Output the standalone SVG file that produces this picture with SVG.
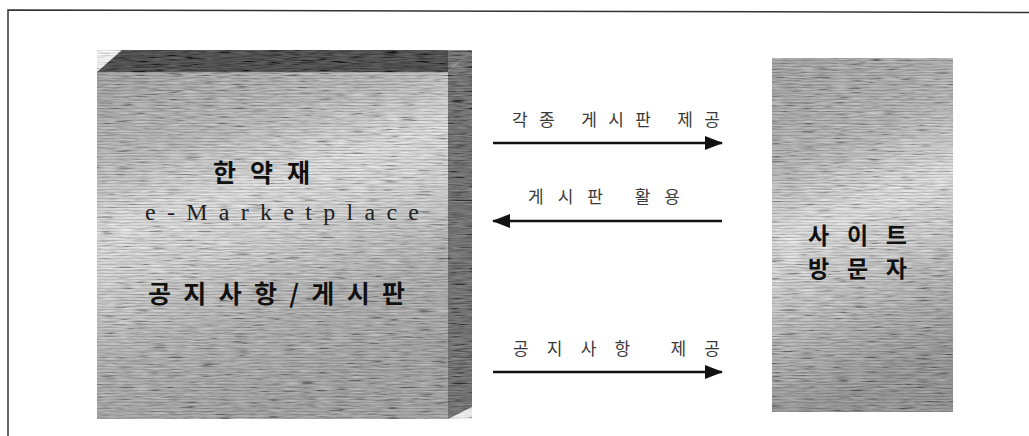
<svg xmlns="http://www.w3.org/2000/svg" width="1029" height="436" viewBox="0 0 1029 436">
  <style>
    .lbl { font-family: "Noto Sans CJK KR", "Noto Sans", sans-serif; font-size: 17px; fill: #3a3a3a; }
    .big { font-family: "Noto Sans CJK KR", "Noto Sans", sans-serif; font-weight: bold; fill: #111; }
    .serif { font-family: "Liberation Serif", serif; fill: #222; }
    .conn { stroke: #111; stroke-width: 2.5; fill: none; }
  </style>
  <defs>
    <linearGradient id="gLeft" x1="0" y1="0" x2="0.3" y2="1">
      <stop offset="0" stop-color="#9a9a9a"/>
      <stop offset="0.25" stop-color="#b8b8b8"/>
      <stop offset="0.42" stop-color="#e8e8e8"/>
      <stop offset="0.55" stop-color="#dadada"/>
      <stop offset="0.78" stop-color="#acacac"/>
      <stop offset="1" stop-color="#9a9a9a"/>
    </linearGradient>
    <linearGradient id="gRight" x1="0" y1="0" x2="0.2" y2="1">
      <stop offset="0" stop-color="#9a9a9a"/>
      <stop offset="0.3" stop-color="#b2b2b2"/>
      <stop offset="0.5" stop-color="#ebebeb"/>
      <stop offset="0.65" stop-color="#d0d0d0"/>
      <stop offset="0.85" stop-color="#a4a4a4"/>
      <stop offset="1" stop-color="#888"/>
    </linearGradient>
    <pattern id="stripes" width="4" height="3" patternUnits="userSpaceOnUse">
      <rect width="4" height="1" fill="#000"/>
    </pattern>
    <filter id="noise" x="0" y="0" width="1" height="1">
      <feTurbulence type="fractalNoise" baseFrequency="0.06 0.7" numOctaves="2" seed="7"/>
      <feColorMatrix type="matrix" values="0.33 0.33 0.33 0 0  0.33 0.33 0.33 0 0  0.33 0.33 0.33 0 0  0 0 0 0 1"/>
      <feComponentTransfer>
        <feFuncR type="linear" slope="3" intercept="-1"/>
        <feFuncG type="linear" slope="3" intercept="-1"/>
        <feFuncB type="linear" slope="3" intercept="-1"/>
      </feComponentTransfer>
    </filter>
    <marker id="ah" markerWidth="18" markerHeight="14" refX="17" refY="7" orient="auto-start-reverse" markerUnits="userSpaceOnUse">
      <path d="M0,0 L18,7 L0,14 Z" fill="#111"/>
    </marker>
  </defs>

  <rect width="1029" height="436" fill="#fff"/>
  <path d="M8,436 L8,10 L1029,12.5" fill="none" stroke="#333" stroke-width="1.5"/>

  <g id="node-marketplace">
    <polygon points="97,72 122,50 472,50 448,72" fill="#222"/>
    <polygon points="97,72 122,50 472,50 448,72" fill="#fff" filter="url(#noise)" opacity="0.3"/>
    <polygon points="448,72 472,50 472,407 448,419" fill="#4a4a4a"/>
    <polygon points="448,72 472,50 472,407 448,419" fill="#fff" filter="url(#noise)" opacity="0.35"/>
    <rect x="97" y="72" width="351" height="347" fill="url(#gLeft)"/>
    <rect x="97" y="72" width="351" height="347" fill="url(#stripes)" opacity="0.15"/>
    <rect x="97" y="72" width="351" height="347" fill="#fff" filter="url(#noise)" opacity="0.3"/>
    <text class="big" x="213" y="182" font-size="25" textLength="97" lengthAdjust="spacing">한약재</text>
    <text class="serif" x="145" y="220" font-size="24" textLength="274" lengthAdjust="spacing">e-Marketplace</text>
    <text class="big" x="148" y="303" font-size="25" textLength="257" lengthAdjust="spacing">공지사항/게시판</text>
  </g>

  <g id="node-visitor">
    <rect x="772" y="58" width="181" height="354" fill="url(#gRight)"/>
    <rect x="772" y="58" width="181" height="354" fill="url(#stripes)" opacity="0.15"/>
    <rect x="772" y="58" width="181" height="354" fill="#fff" filter="url(#noise)" opacity="0.3"/>
    <text class="big" x="808" y="244" font-size="23" textLength="99" lengthAdjust="spacing">사이트</text>
    <text class="big" x="808" y="277" font-size="23" textLength="99" lengthAdjust="spacing">방문자</text>
  </g>

  <g id="connectors">
    <line class="conn" x1="493" y1="143" x2="722" y2="143" marker-end="url(#ah)"/>
    <text class="lbl" x="512" y="126" textLength="208" lengthAdjust="spacing">각종 게시판 제공</text>
    <line class="conn" x1="493" y1="221" x2="722" y2="221" marker-start="url(#ah)"/>
    <text class="lbl" x="528" y="203" textLength="152" lengthAdjust="spacing">게시판 활용</text>
    <line class="conn" x1="493" y1="372" x2="722" y2="372" marker-end="url(#ah)"/>
    <text class="lbl" x="513" y="355" textLength="207" lengthAdjust="spacing">공지사항 제공</text>
  </g>
</svg>
